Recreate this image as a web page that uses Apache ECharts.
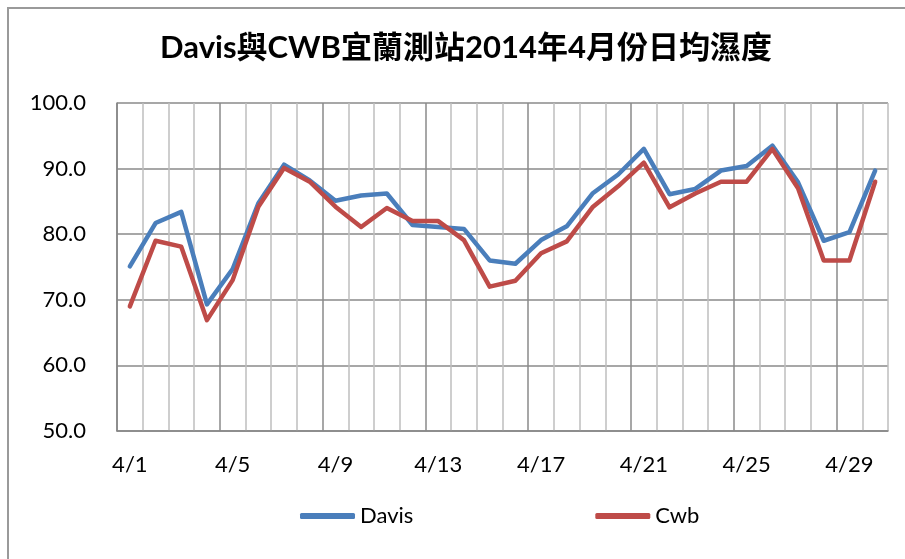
<!DOCTYPE html>
<html>
<head>
<meta charset="utf-8">
<script src="https://cdn.jsdelivr.net/npm/echarts@6/dist/echarts.min.js"></script>
<style>
  html, body { margin: 0; padding: 0; background: #fff; }
  #chart { width: 905px; height: 559px; }
</style>
</head>
<body>
<div id="chart"></div>
<script>
// 4月每日
const days = []
for (let d = 1; d <= 30; d++) days.push('4/' + d)

const davis = [75.1, 81.7, 83.4, 69.3, 74.7, 84.7, 90.6, 88.2, 85.1, 85.9,
  86.2, 81.4, 81.1, 80.8, 76.0, 75.5, 79.1, 81.2, 86.2, 89.1,
  93.0, 86.1, 86.9, 89.7, 90.4, 93.5, 87.9, 79.0, 80.3, 89.7]
const cwb = [69.0, 79.0, 78.1, 66.9, 73.0, 84.2, 90.1, 88.0, 84.2, 81.1,
  84.0, 82.0, 82.0, 79.1, 72.0, 72.9, 77.1, 78.9, 84.1, 87.3,
  90.9, 84.1, 86.2, 88.0, 88.0, 93.0, 87.0, 76.0, 76.0, 88.0]

const font = 'Lato, "Noto Sans CJK TC", sans-serif'
const chart = echarts.init(document.getElementById('chart'))

chart.setOption({
  animation: false,
  backgroundColor: '#fff',
  textStyle: { fontFamily: font },
  graphic: [
    {
      type: 'rect',
      shape: { x: 8, y: 8, width: 1000, height: 1000 },
      style: { fill: 'none', stroke: '#9a9a9a', lineWidth: 2 }
    },
    {
      type: 'text',
      x: 466, y: 48,
      style: {
        text: 'Davis與CWB宜蘭測站2014年4月份日均濕度',
        font: 'bold 31px ' + font,
        fill: '#000',
        align: 'center',
        verticalAlign: 'middle'
      }
    }
  ],
  grid: { left: 117, top: 103, right: 17, bottom: 128 },
  legend: {
    left: 300, top: 505,
    padding: 0,
    itemGap: 182,
    itemWidth: 55, itemHeight: 6,
    icon: 'roundRect',
    textStyle: { fontSize: 22, color: '#000', fontFamily: font },
    data: ['Davis', 'Cwb']
  },
  xAxis: {
    type: 'category',
    data: days,
    boundaryGap: true,
    axisLine: { lineStyle: { color: '#868686', width: 1.5 } },
    axisTick: { show: false },
    axisLabel: { interval: 3, fontSize: 22, color: '#000', margin: 23 },
    splitLine: {
      show: true,
      interval: 0,
      lineStyle: { color: ['#8a8a8a', '#bebebe', '#bebebe', '#bebebe'], width: 1.5 }
    }
  },
  yAxis: {
    type: 'value',
    min: 50, max: 100, interval: 10,
    axisLine: { show: true, lineStyle: { color: '#868686', width: 1.5 } },
    axisTick: { show: false },
    axisLabel: { fontSize: 22, color: '#000', margin: 31, formatter: v => v.toFixed(1) },
    splitLine: { lineStyle: { color: '#8a8a8a', width: 1.5 } }
  },
  series: [
    {
      name: 'Davis', type: 'line', data: davis,
      symbol: 'none',
      itemStyle: { color: '#4A7EBB' },
      lineStyle: { width: 4.5, color: '#4A7EBB', cap: 'round', join: 'round' }
    },
    {
      name: 'Cwb', type: 'line', data: cwb,
      symbol: 'none',
      itemStyle: { color: '#BE4B48' },
      lineStyle: { width: 4.5, color: '#BE4B48', cap: 'round', join: 'round' }
    }
  ]
})
</script>
</body>
</html>
